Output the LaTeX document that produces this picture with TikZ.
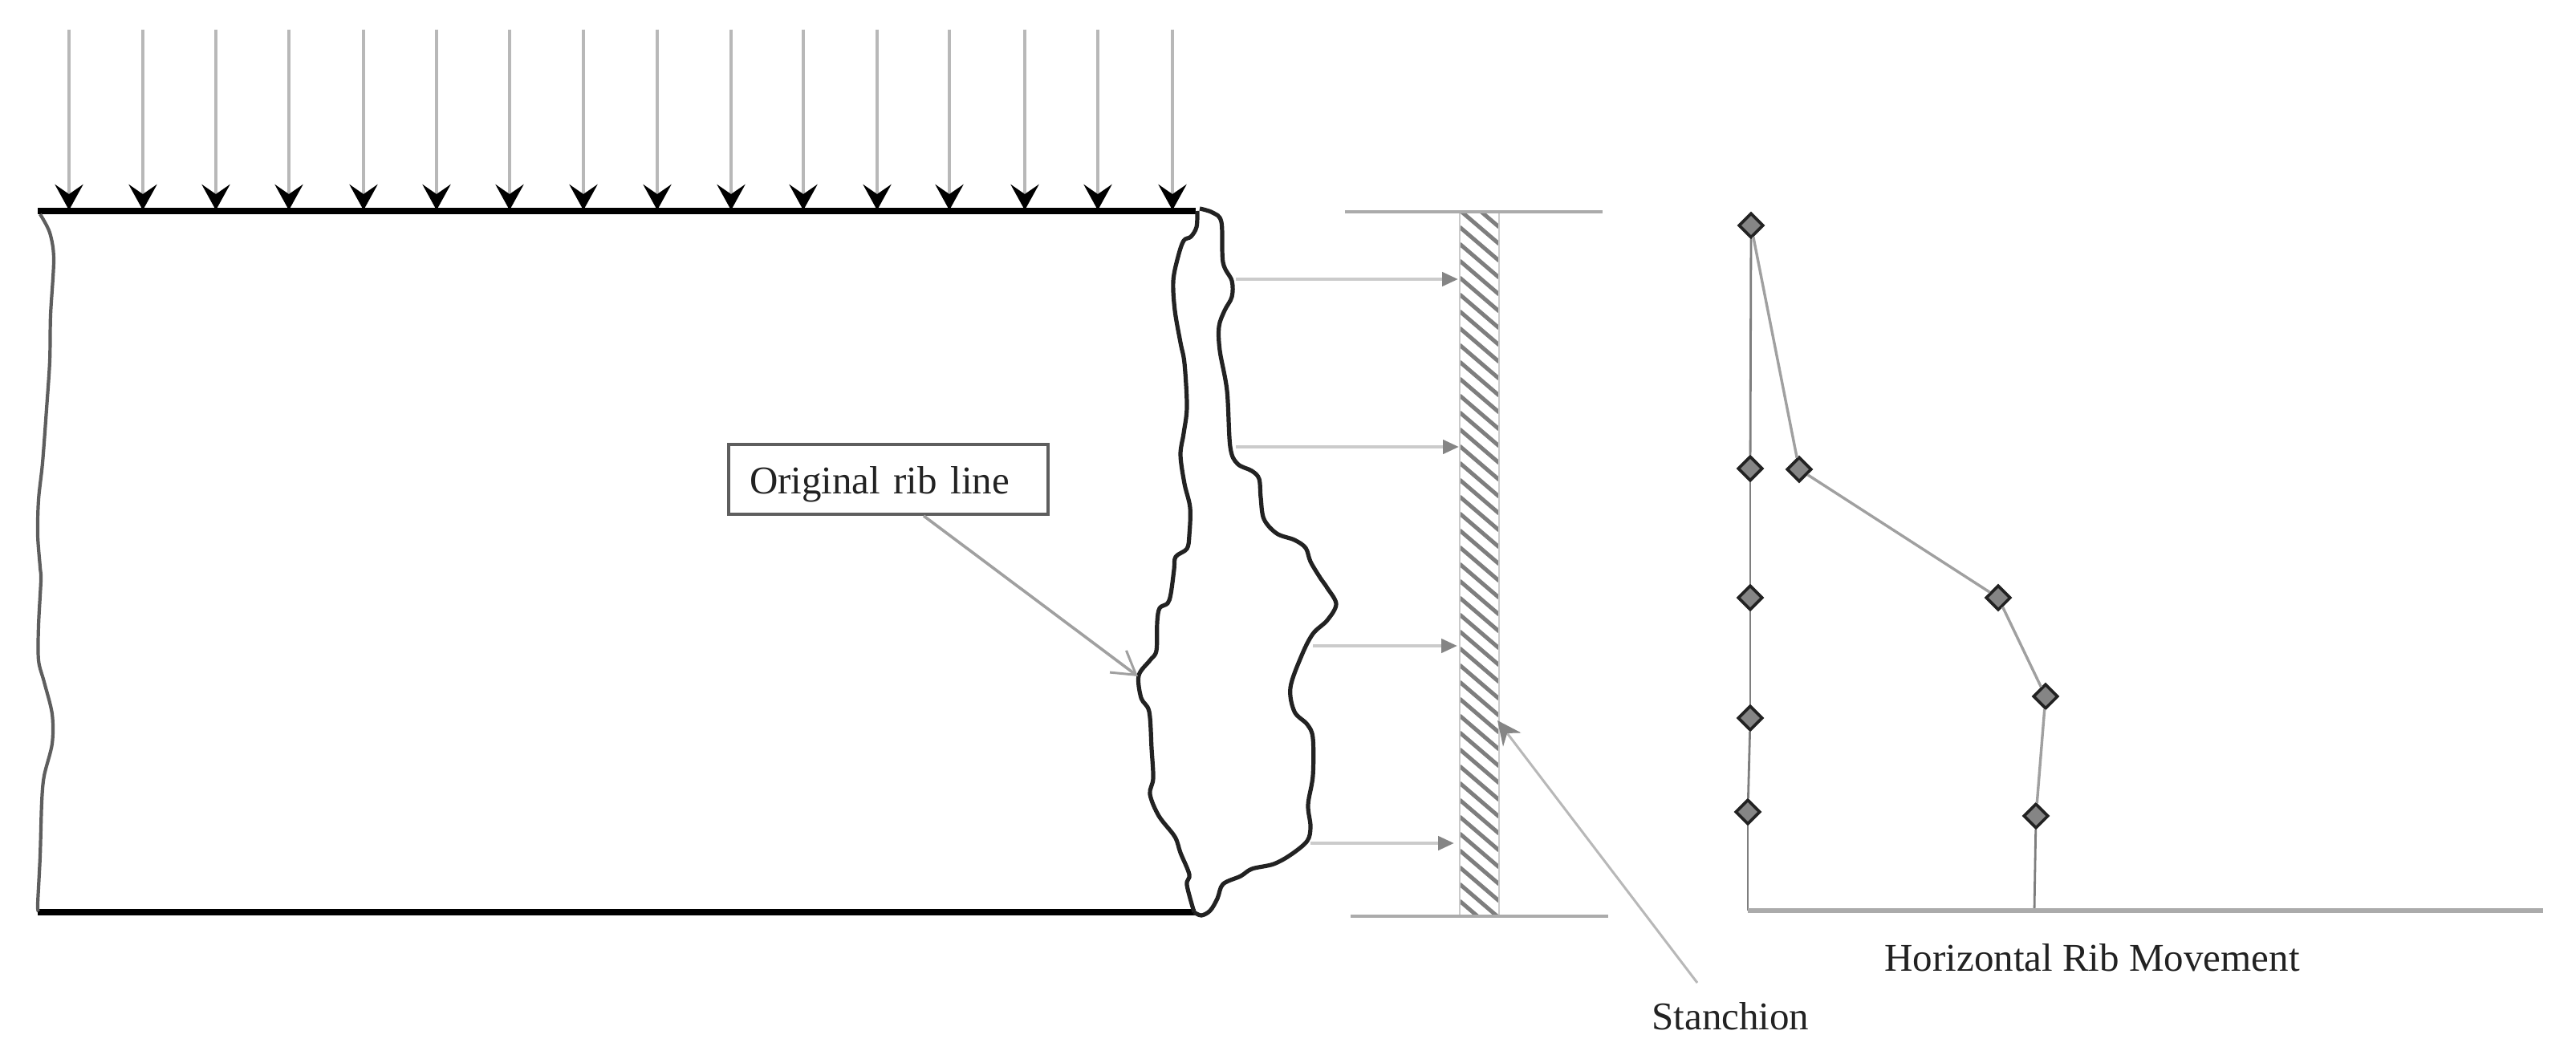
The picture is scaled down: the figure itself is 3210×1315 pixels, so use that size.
\documentclass[tikz,border=0pt]{standalone}
\usepackage{fontspec}
\setmainfont{Liberation Serif}
\usetikzlibrary{arrows.meta,shapes.geometric,calc}
\definecolor{loadgrey}{HTML}{B8B8B8}
\definecolor{pushgrey}{HTML}{CBCBCB}
\definecolor{headgrey}{HTML}{858585}
\definecolor{plategrey}{HTML}{ABABAB}
\definecolor{hatchgrey}{HTML}{7E7E7E}
\definecolor{curvegrey}{HTML}{A0A0A0}
\definecolor{edgegrey}{HTML}{5E5E5E}
\definecolor{inkdark}{HTML}{222222}
\tikzset{
  x=0.5pt,y=-0.5pt,
  loadarrow/.style={draw=loadgrey,line width=2.4pt,-{Stealth[length=16pt,width=17.5pt,inset=6pt,black]}},
  bar/.style={draw=black,line width=3.6pt},
  outeredge/.style={draw=edgegrey,line width=2.1pt,line join=round},
  ribline/.style={draw=inkdark,line width=2.6pt,line join=round},
  pusharrow/.style={draw=pushgrey,line width=2.2pt,-{Triangle[length=10pt,width=8.5pt,headgrey]}},
  plate/.style={draw=plategrey,line width=2.4pt},
  hatchline/.style={draw=hatchgrey,line width=2.5pt},
  marker/.style={shape=diamond,aspect=1,draw=inkdark,fill=headgrey,line width=1.8pt,inner sep=0pt,minimum width=15.5pt,minimum height=15.5pt},
  profile/.style={draw=curvegrey,line width=1.7pt},
  axisline/.style={draw=plategrey,line width=2.6pt},
  stem/.style={draw=edgegrey!80,line width=1.4pt},
  label/.style={font=\fontsize{24.5pt}{26pt}\selectfont,text=inkdark,inner sep=0pt,anchor=base west},
  ribbox/.style={draw=edgegrey,line width=2pt,fill=white,font=\fontsize{24.5pt}{26pt}\selectfont,text=inkdark,
    inner xsep=13pt,inner ysep=0pt,text width=173pt,align=left,text height=30.5pt,text depth=13pt},
  ribpointer/.style={draw=curvegrey,line width=1.8pt,-{Straight Barb[length=14pt,width=17pt,line width=1.5pt]}},
  stanpointer/.style={draw=loadgrey,line width=1.5pt,-{Stealth[length=15pt,width=14pt,inset=5pt,headgrey]}}
}
\begin{document}
\begin{tikzpicture}
\useasboundingbox[fill=white] (0,0) rectangle (3210,1315);

% uniform load arrows
\foreach \i/\px in {1/86,2/178,3/269,4/360,5/453,6/544,7/635,8/727,9/819,10/911,11/1001,12/1093,13/1183,14/1277,15/1368,16/1461}{
  \coordinate (t\i) at (\px,37);
  \coordinate (b\i) at (\px,262);
  \draw[loadarrow] (t\i) -- (b\i);
}

% roof and floor of the rib
\coordinate (tl) at (47,263);
\coordinate (tr) at (1490,263);
\coordinate (bl) at (47,1137);
\coordinate (br) at (1490,1137);
\draw[bar] (tl) -- (tr);
\draw[bar] (bl) -- (br);

% left broken edge
\draw[outeredge] plot[smooth,tension=0.5] coordinates {
(50,267) (62,290) (67,323) (63,393) (62,450) (58,510) (53,577) (48,623) (47,667) (50,707)
(51,723) (48,780) (48,823) (55,850) (65,890) (65,927) (55,967) (52,1000) (50,1067) (47,1127) (48,1136)};

% original rib line
\draw[ribline] plot[smooth,tension=0.55] coordinates {
(1492,263) (1491,283) (1484,295) (1475,300) (1468,320) (1462,350) (1464,387) (1471,427) (1476,453)
(1479,507) (1475,540) (1471,567) (1476,603) (1483,633) (1482,667) (1479,684) (1465,694) (1463,710)
(1459,740) (1455,752) (1445,758) (1442,775) (1441,811) (1433,823) (1419,842) (1422,870) (1432,887)
(1435,933) (1437,970) (1433,990) (1444,1017) (1464,1043) (1471,1063) (1482,1090) (1479,1103) (1488,1137)};

% deformed rib line
\draw[ribline] plot[smooth,tension=0.55] coordinates {
(1488,1137) (1497,1141) (1508,1135) (1517,1120) (1524,1102) (1546,1092) (1560,1083) (1587,1077)
(1609,1065) (1629,1048) (1633,1030) (1630,1003) (1636,967) (1636,920) (1629,903) (1613,887) (1608,857)
(1622,817) (1636,790) (1654,773) (1665,753) (1654,733) (1645,720) (1633,700) (1627,683) (1613,673)
(1591,665) (1575,647) (1571,620) (1569,597) (1560,587) (1542,578) (1533,557) (1529,487) (1520,437)
(1519,407) (1526,387) (1535,370) (1535,350) (1524,327) (1522,277) (1511,265) (1495,260)};

% stanchion
\begin{scope}
  \clip (1819,264) rectangle (1868,1142);
  \foreach \hy in {220,241,...,1150}{
    \draw[hatchline] (1819,\hy) -- (1868,\hy+42);
  }
\end{scope}
\draw[draw=pushgrey,line width=1pt] (1819,264) -- (1819,1142);
\draw[draw=pushgrey,line width=1pt] (1868,264) -- (1868,1142);
\coordinate (pt1) at (1676,264);
\coordinate (pt2) at (1997,264);
\coordinate (pb1) at (1683,1142);
\coordinate (pb2) at (2004,1142);
\draw[plate] (pt1) -- (pt2);
\draw[plate] (pb1) -- (pb2);

% horizontal force arrows
\foreach \i/\xa/\xb/\py in {1/1540/1817/348,2/1540/1818/557,3/1636/1816/805,4/1633/1812/1051}{
  \coordinate (fa\i) at (\xa,\py);
  \coordinate (fb\i) at (\xb,\py);
  \draw[pusharrow] (fa\i) -- (fb\i);
}

% labels
\node[ribbox] (ribnote) at (1107,597.5) {Original rib line};
\coordinate (ribtip) at (1418,843);
\draw[ribpointer] ([xshift=22pt]ribnote.south) -- (ribtip);

\node[label] (stanlabel) at (2058,1283) {Stanchion};
\coordinate (stanfoot) at (2115,1225);
\coordinate (stantip) at (1866,898);
\draw[stanpointer] (stanfoot) -- (stantip);

\node[label] (movelabel) at (2348,1210) {Horizontal Rib Movement};

% movement profile
\node[marker] (l1) at (2182,281) {};
\node[marker] (l2) at (2181,584) {};
\node[marker] (l3) at (2181,745) {};
\node[marker] (l4) at (2181,895) {};
\node[marker] (l5) at (2178,1012) {};
\node[marker] (r2) at (2242,585) {};
\node[marker] (r3) at (2490,745) {};
\node[marker] (r4) at (2549,868) {};
\node[marker] (r5) at (2537,1017) {};
\coordinate (axo) at (2178,1135);
\coordinate (axr) at (2535,1135);
\coordinate (axe) at (3169,1135);
\draw[stem] (l1) -- (l2);
\draw[stem] (l2) -- (l3);
\draw[stem] (l3) -- (l4);
\draw[stem] (l4) -- (l5);
\draw[stem] (l5) -- (axo);
\draw[profile] (l1) -- (r2);
\draw[profile] (r2) -- (r3);
\draw[profile] (r3) -- (r4);
\draw[profile] (r4) -- (r5);
\draw[stem] (r5) -- (axr);
\draw[axisline] (axo) -- (axe);
\end{tikzpicture}
\end{document}
